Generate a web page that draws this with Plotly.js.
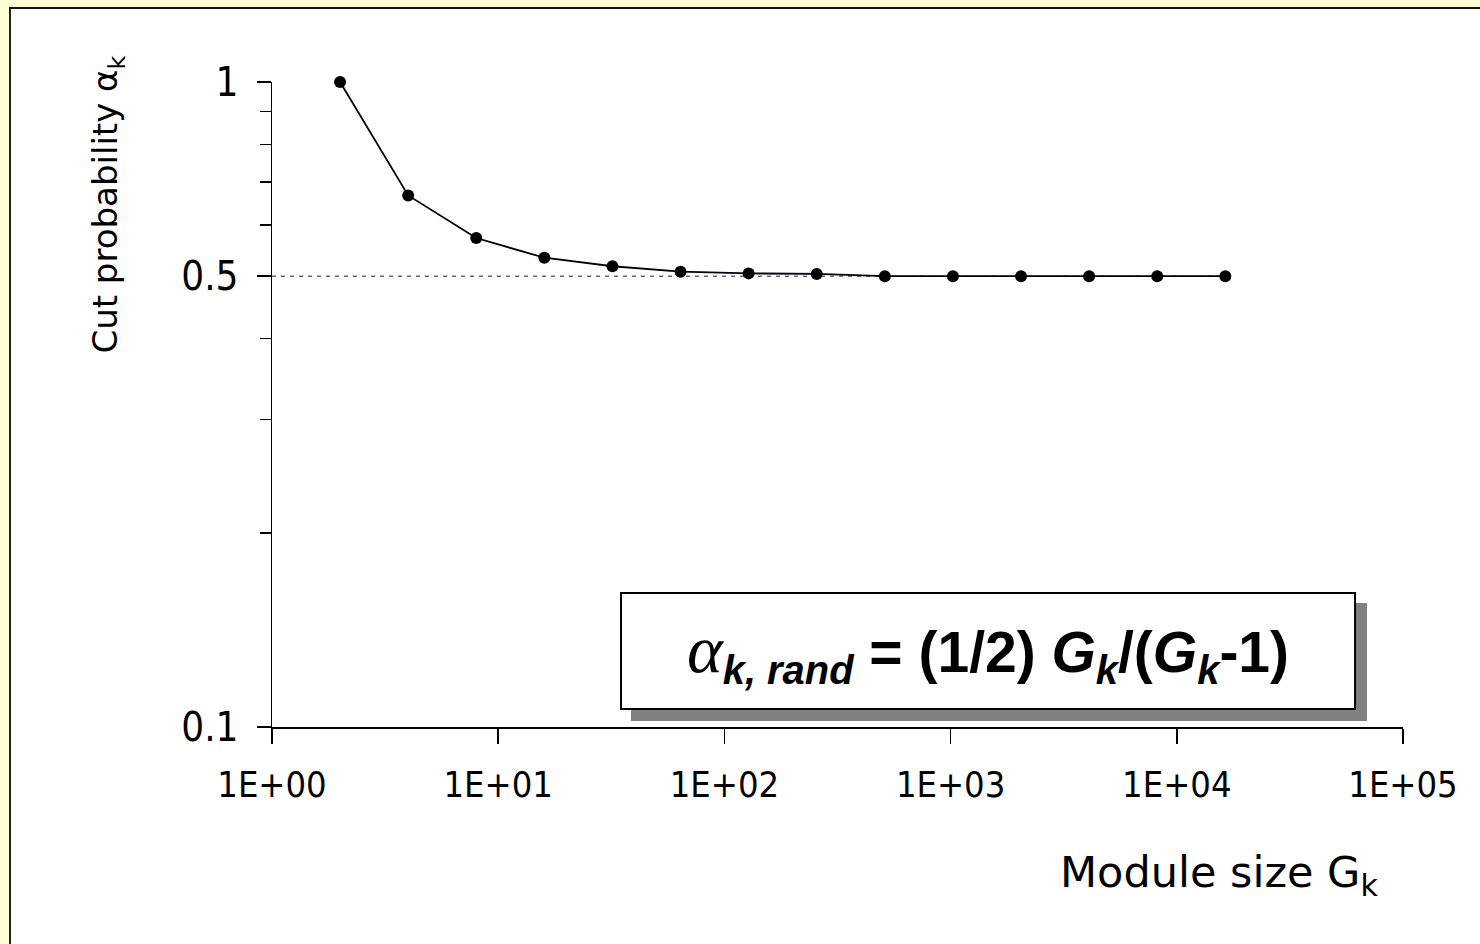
<!DOCTYPE html>
<html>
<head>
<meta charset="utf-8">
<script src="https://cdn.plot.ly/plotly-3.0.1.min.js"></script>
<style>
  html, body { margin: 0; padding: 0; background: #FFFFD6; width: 1480px; height: 944px; overflow: hidden; }
  #frame { position: absolute; left: 9px; top: 7px; width: 1480px; height: 944px; background: #ffffff;
           border-left: 2px solid #222; border-top: 2px solid #111; }
  #chart { position: absolute; left: 0; top: 0; width: 1480px; height: 944px; }
</style>
</head>
<body>
<div id="frame"></div>
<div id="chart"></div>
<script>
// Data
const moduleSize = [2, 4, 8, 16, 32, 64, 128, 256, 512, 1024, 2048, 4096, 8192, 16384];
const cutProb = [1.0, 0.667, 0.573, 0.534, 0.518, 0.508, 0.505, 0.504, 0.500, 0.500, 0.500, 0.500, 0.500, 0.500];
const refLevel = 0.5;
const xTickVals = [1, 10, 100, 1000, 10000, 100000];
const xTickText = ["1E+00", "1E+01", "1E+02", "1E+03", "1E+04", "1E+05"];
const yTickVals = [0.1, 0.5, 1];
const yTickText = ["0.1", "0.5", "1"];
const yMinorVals = [0.2, 0.3, 0.4, 0.6, 0.7, 0.8, 0.9];

const tickFont = "DejaVu Sans Condensed, Liberation Sans Narrow, sans-serif";
const titleFont = "DejaVu Sans, Liberation Sans, sans-serif";

const traces = [
  {
    x: [1, moduleSize[moduleSize.length - 1]],
    y: [refLevel, refLevel],
    mode: "lines",
    line: { color: "rgb(100,100,160)", width: 1.5, dash: "4px,5px" },
    hoverinfo: "skip",
    showlegend: false,
    cliponaxis: false
  },
  {
    x: moduleSize,
    y: cutProb,
    mode: "lines+markers",
    line: { color: "#000", width: 1.8 },
    marker: { color: "#000", size: 12 },
    showlegend: false,
    cliponaxis: false
  }
];

const layout = {
  width: 1480,
  height: 944,
  paper_bgcolor: "rgba(0,0,0,0)",
  plot_bgcolor: "rgba(0,0,0,0)",
  margin: { l: 272, r: 77, t: 82, b: 217 },
  showlegend: false,
  xaxis: {
    type: "log",
    range: [0, 5],
    showgrid: false,
    zeroline: false,
    showline: true,
    linecolor: "#000",
    linewidth: 1.5,
    ticks: "outside",
    ticklen: 15,
    tickwidth: 1.5,
    tickcolor: "#000",
    tickmode: "array",
    tickvals: xTickVals,
    ticktext: xTickText,
    ticklabelstandoff: 10,
    tickfont: { family: tickFont, size: 36, color: "#000" }
  },
  yaxis: {
    type: "log",
    range: [-1, 0],
    showgrid: false,
    zeroline: false,
    showline: true,
    linecolor: "#000",
    linewidth: 1.5,
    ticks: "outside",
    ticklen: 14,
    tickwidth: 1.5,
    tickcolor: "#000",
    tickmode: "array",
    tickvals: yTickVals,
    ticktext: yTickText,
    ticklabelstandoff: 10,
    tickfont: { family: tickFont, size: 40, color: "#000" },
    minor: {
      tickmode: "array",
      tickvals: yMinorVals,
      ticks: "outside",
      ticklen: 11,
      tickwidth: 1.5,
      tickcolor: "#000",
      showgrid: false
    }
  },
  shapes: [
    { type: "rect", xref: "paper", yref: "paper", x0: 0.3174, x1: 0.9682, y0: 0.0093, y1: 0.1922,
      fillcolor: "#808080", line: { width: 0 }, layer: "above" },
    { type: "rect", xref: "paper", yref: "paper", x0: 0.3086, x1: 0.9576, y0: 0.0279, y1: 0.2078,
      fillcolor: "#ffffff", line: { color: "#000", width: 2 }, layer: "above" }
  ],
  annotations: [
    {
      xref: "paper", yref: "paper", x: 0.6331, y: 0.1178, xanchor: "center", yanchor: "middle",
      showarrow: false,
      text: "<span style='font-family:Liberation Serif;font-style:italic;font-size:68px'>α</span><b><i><sub>k, rand</sub></i> = (1/2) <i>G</i><i><sub>k</sub></i>/(<i>G</i><i><sub>k</sub></i>-1)</b>",
      font: { family: "Liberation Sans, Arial, sans-serif", size: 57, color: "#000" }
    },
    {
      xref: "paper", yref: "paper", x: -0.145, y: 0.81, xanchor: "center", yanchor: "middle",
      showarrow: false, textangle: -90,
      text: "Cut probability α<sub>k</sub>",
      font: { family: titleFont, size: 34, color: "#000" }
    },
    {
      xref: "paper", yref: "paper", x: 0.837, y: -0.229, xanchor: "center", yanchor: "middle",
      showarrow: false,
      text: "Module size G<sub>k</sub>",
      font: { family: titleFont, size: 43, color: "#000" }
    }
  ]
};

Plotly.newPlot("chart", traces, layout, { staticPlot: true, displayModeBar: false });
</script>
</body>
</html>
